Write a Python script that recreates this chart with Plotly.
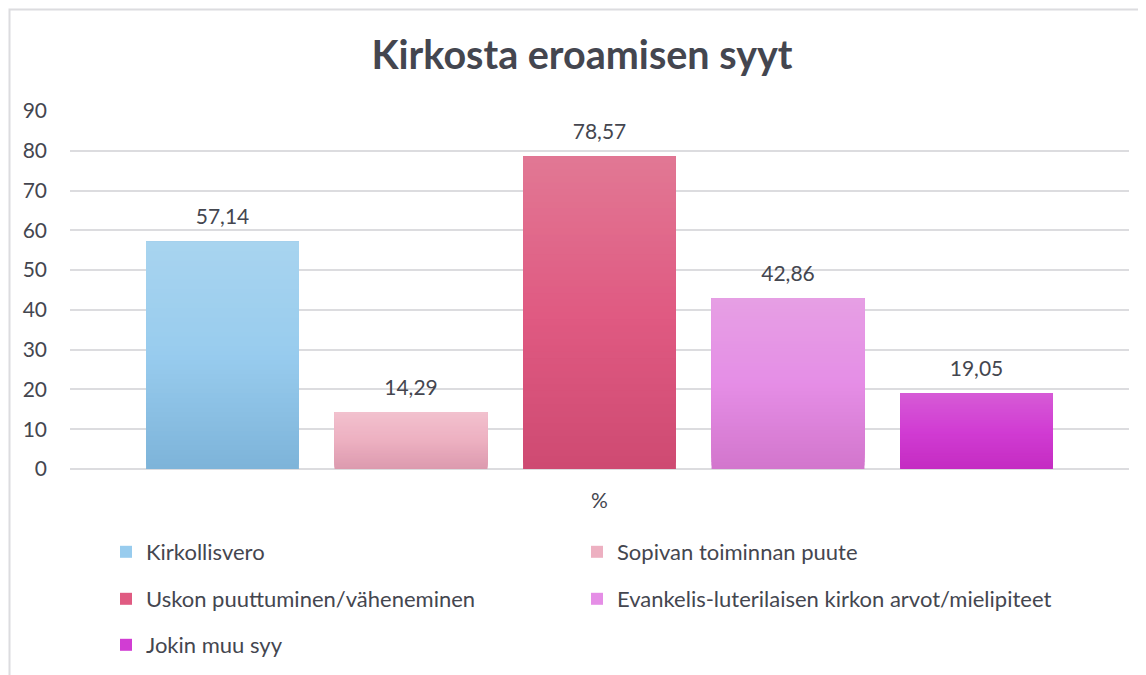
import plotly.graph_objects as go

# ---- data ----
category = ["%"]
series_names = [
    "Kirkollisvero",
    "Sopivan toiminnan puute",
    "Uskon puuttuminen/väheneminen",
    "Evankelis-luterilaisen kirkon arvot/mielipiteet",
    "Jokin muu syy",
]
series_values = [57.14, 14.29, 78.57, 42.86, 19.05]

# ---- style: 3-stop vertical gradients (top, middle, bottom) ----
gradients = [
    ["#A8D4EF", "#98CCEE", "#7DB3D9"],
    ["#F2C1CE", "#EDB0C1", "#DC9AAE"],
    ["#E17894", "#E05A82", "#CE4A72"],
    ["#E69FE4", "#E58EE6", "#D275CC"],
    ["#D65BD6", "#D13CD3", "#C42CC2"],
]

TXT = "#44464F"
FONT = "Lato"
NSEG = 48

# page body has an 8px margin: layout coordinates are screen coordinates minus 8
OFF = 8
# legend cell positions on screen (left x, row centre y)
legend_cells = [(106, 552), (577, 552), (106, 599), (577, 599), (106, 645)]
legend_ids = ["legend", "legend2", "legend3", "legend4", "legend5"]


def hex2rgb(h):
    h = h.lstrip("#")
    return [int(h[i:i + 2], 16) for i in (0, 2, 4)]


def mix(c1, c2, t):
    a, b = hex2rgb(c1), hex2rgb(c2)
    return "rgb(%d,%d,%d)" % tuple(round(a[i] + (b[i] - a[i]) * t) for i in range(3))


def grad(stops, t):
    # t = 0 bottom, 1 top
    top, mid, bot = stops
    if t < 0.5:
        return mix(bot, mid, t / 0.5)
    return mix(mid, top, (t - 0.5) / 0.5)


fig = go.Figure()
for s, (name, val) in enumerate(zip(series_names, series_values)):
    # gradient: overlapping layers, each from a fraction of the value up to the value
    for k in range(NSEG):
        frac_lo = k / NSEG
        frac_mid = (k + 0.5) / NSEG
        fig.add_trace(go.Bar(
            x=category,
            y=[val * (1 - frac_lo)],
            base=[val * frac_lo],
            name=name,
            offsetgroup=str(s),
            legendgroup=str(s),
            legend=legend_ids[s],
            showlegend=(k == NSEG // 2),
            marker=dict(color=grad(gradients[s], frac_mid), line=dict(width=0)),
            customdata=[val],
            hovertemplate=name + ": %{customdata:.2f}<extra></extra>",
        ))
    # data label above the bar
    fig.add_trace(go.Scatter(
        x=category,
        y=[val],
        mode="markers+text",
        offsetgroup=str(s),
        legendgroup=str(s),
        showlegend=False,
        marker=dict(size=18, opacity=0, color="white"),
        texttemplate="%{y:.2f}",
        textposition="top center",
        textfont=dict(family=FONT, size=21, color=TXT),
        hoverinfo="skip",
        cliponaxis=False,
    ))

W, H = 1146, 675
legends = {}
for lid, (lx, ly) in zip(legend_ids, legend_cells):
    legends[lid] = dict(
        orientation="h",
        xref="container", yref="container",
        x=(lx - OFF) / W, xanchor="left",
        y=1 - (ly - OFF) / H, yanchor="middle",
        font=dict(family=FONT, size=22, color=TXT),
        bgcolor="rgba(0,0,0,0)",
    )

# plot area on screen: x 70..1129, y 111..469
PL, PR, PT, PB = 70 - OFF, 1129 - OFF, 111 - OFF, 469 - OFF

fig.update_layout(
    width=W, height=H,
    margin=dict(l=PL, r=W - PR, t=PT, b=H - PB, autoexpand=False),
    paper_bgcolor="white", plot_bgcolor="white",
    separators=", ",
    barmode="group",
    bargap=0.11,
    bargroupgap=0.189,
    scattermode="group",
    scattergap=0.11,
    title=dict(
        text="<b>Kirkosta eroamisen syyt</b>",
        x=(582 - OFF) / W, xanchor="center",
        y=1 - (55 - OFF) / H, yanchor="middle",
        font=dict(family=FONT, size=39.5, color=TXT),
    ),
    font=dict(family=FONT, size=21, color=TXT),
    xaxis=dict(
        showgrid=False, showline=False, ticks="",
        tickfont=dict(family=FONT, size=21, color=TXT),
        ticklabelstandoff=17,
    ),
    yaxis=dict(
        range=[0, 90], dtick=10, tick0=0,
        showgrid=True, gridcolor="#DCDCDF", gridwidth=1.5,
        zeroline=True, zerolinecolor="#DCDCDF", zerolinewidth=1.5,
        showline=False, ticks="",
        tickfont=dict(family=FONT, size=21, color=TXT),
        ticklabelstandoff=22,
    ),
    showlegend=True,
    **legends,
)

# outer chart border (light grey frame near the top-left page edge, cropped at right and bottom)
PW, PH = PR - PL, PB - PT
fig.add_shape(
    type="rect", xref="paper", yref="paper",
    x0=(1.5 - PL) / PW, x1=1.2,
    y0=-1.0, y1=(PB - 1.5) / PH,
    line=dict(color="#DCDCDF", width=2), fillcolor="rgba(0,0,0,0)",
    layer="below",
)

fig.write_html("out.html", config={"displayModeBar": False})
